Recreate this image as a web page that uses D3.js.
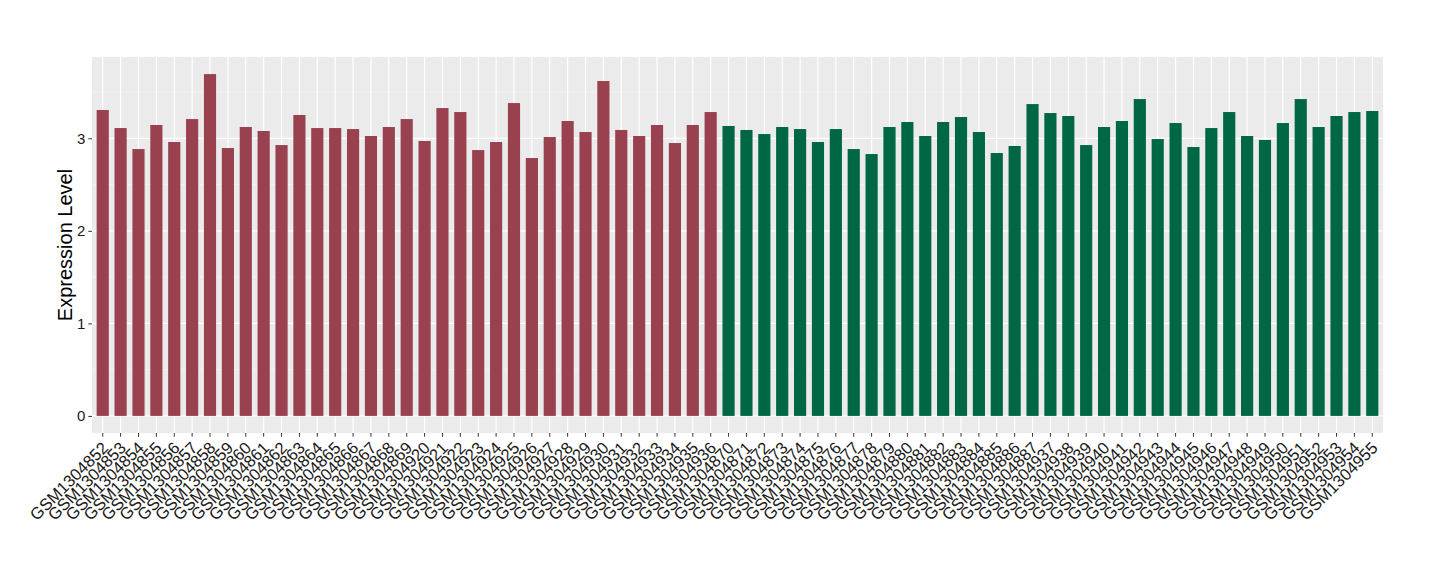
<!DOCTYPE html>
<html><head><meta charset="utf-8">
<script src="https://cdn.jsdelivr.net/npm/d3@7"></script>
<style>body{margin:0;background:#fff}svg{display:block}text{font-family:"Liberation Sans",Arial,sans-serif}</style>
</head><body><svg id="c" width="1440" height="580"></svg>
<script>
const samples = ["GSM1304852","GSM1304853","GSM1304854","GSM1304855","GSM1304856","GSM1304857","GSM1304858","GSM1304859","GSM1304860","GSM1304861","GSM1304862","GSM1304863","GSM1304864","GSM1304865","GSM1304866","GSM1304867","GSM1304868","GSM1304869","GSM1304920","GSM1304921","GSM1304922","GSM1304923","GSM1304924","GSM1304925","GSM1304926","GSM1304927","GSM1304928","GSM1304929","GSM1304930","GSM1304931","GSM1304932","GSM1304933","GSM1304934","GSM1304935","GSM1304936","GSM1304870","GSM1304871","GSM1304872","GSM1304873","GSM1304874","GSM1304875","GSM1304876","GSM1304877","GSM1304878","GSM1304879","GSM1304880","GSM1304881","GSM1304882","GSM1304883","GSM1304884","GSM1304885","GSM1304886","GSM1304887","GSM1304937","GSM1304938","GSM1304939","GSM1304940","GSM1304941","GSM1304942","GSM1304943","GSM1304944","GSM1304945","GSM1304946","GSM1304947","GSM1304948","GSM1304949","GSM1304950","GSM1304951","GSM1304952","GSM1304953","GSM1304954","GSM1304955"];
const values = [3.306,3.111,2.884,3.144,2.960,3.208,3.694,2.895,3.122,3.079,2.927,3.252,3.111,3.111,3.100,3.025,3.122,3.208,2.971,3.327,3.284,2.873,2.960,3.381,2.787,3.014,3.187,3.068,3.619,3.090,3.025,3.144,2.949,3.144,3.284,3.133,3.090,3.046,3.122,3.100,2.960,3.100,2.884,2.830,3.122,3.176,3.025,3.176,3.230,3.068,2.841,2.917,3.370,3.273,3.241,2.927,3.122,3.187,3.424,2.992,3.165,2.906,3.111,3.284,3.025,2.982,3.165,3.424,3.122,3.241,3.284,3.295];
const groups = Array(35).fill("A").concat(Array(37).fill("B"));
const yTicks = [0,1,2,3];
const yMinor = [0.5,1.5,2.5,3.5];
const yTitle = "Expression Level";
const colors = {A:"#9a4150", B:"#006744"};

const svg = d3.select("#c");
const L=92, R=1383, T=57, B=433;
const n = samples.length;
const step = (R-L)/(n-1+1.2);
const x = d3.scaleBand().domain(samples).range([L+0.6*step-step/2, R-0.6*step+step/2]).paddingInner(0.32).paddingOuter(0.16);
const xc = d => x(d)+x.bandwidth()/2;
const maxV = d3.max(values);
const y = d3.scaleLinear().domain([-0.05*maxV, maxV*1.05]).range([B,T]);

svg.append("rect").attr("x",L).attr("y",T).attr("width",R-L).attr("height",B-T).attr("fill","#ebebeb");
const g = svg.append("g");
g.selectAll(".ymin").data(yMinor.filter(v=>y(v)>T)).join("line").attr("x1",L).attr("x2",R).attr("y1",d=>y(d)).attr("y2",d=>y(d)).attr("stroke","#f6f6f6").attr("stroke-width",0.6);
g.selectAll(".ymaj").data(yTicks).join("line").attr("x1",L).attr("x2",R).attr("y1",d=>y(d)).attr("y2",d=>y(d)).attr("stroke","#fff").attr("stroke-width",1.2);
g.selectAll(".xmaj").data(samples).join("line").attr("x1",xc).attr("x2",xc).attr("y1",T).attr("y2",B).attr("stroke","#fff").attr("stroke-width",1.2);

svg.append("g").selectAll("rect").data(samples).join("rect")
  .attr("x",d=>x(d)).attr("width",x.bandwidth())
  .attr("y",(d,i)=>y(values[i])).attr("height",(d,i)=>y(0)-y(values[i]))
  .attr("fill",(d,i)=>colors[groups[i]]);

// y axis
const ya = svg.append("g").attr("transform",`translate(${L},0)`).call(d3.axisLeft(y).tickValues(yTicks).tickSize(3.7).tickPadding(3).tickFormat(d3.format("d")));
ya.select(".domain").remove();
ya.selectAll("line").attr("stroke","#333");
ya.selectAll("text").attr("font-size",15).attr("fill","#1a1a1a").style("font-family","Liberation Sans, Arial, sans-serif");

// x axis
const xa = svg.append("g").attr("transform",`translate(0,${B})`).call(d3.axisBottom(x).tickSize(3.7).tickPadding(2));
xa.select(".domain").remove();
xa.selectAll("line").attr("stroke","#333");
xa.selectAll("text").attr("font-size",16.6).attr("fill","#1a1a1a").style("font-family","Liberation Sans, Arial, sans-serif")
  .attr("text-anchor","end").attr("dy",null).attr("y",0)
  .attr("transform","translate(6.5,16) rotate(-45)");

svg.append("text").attr("transform",`translate(72,${(T+B)/2}) rotate(-90)`).attr("text-anchor","middle")
  .attr("font-size",20).attr("fill","#000").text(yTitle);
</script></body></html>
